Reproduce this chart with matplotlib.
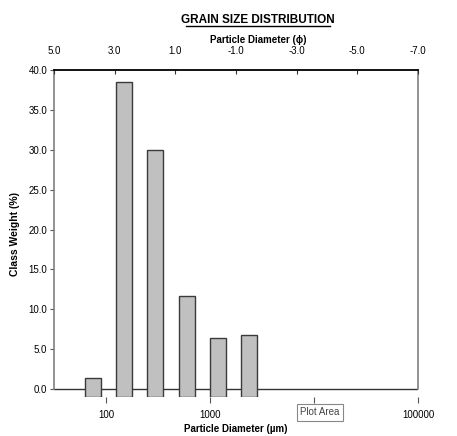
import matplotlib

matplotlib.use("Agg")
import matplotlib.pyplot as plt
from matplotlib.ticker import FixedLocator, FixedFormatter

# sieve classes (lower bound of each class, micrometres) and weight retained
sieve_um = [63, 125, 250, 500, 1000, 2000]
class_weight = [1.4, 38.5, 30.0, 11.7, 6.4, 6.8]

y_ticks = [0, 5, 10, 15, 20, 25, 30, 35, 40]
um_ticks = [100, 1000, 10000, 100000]
um_labels = ["100", "1000", "", "100000"]
phi_ticks = [5.0, 3.0, 1.0, -1.0, -3.0, -5.0, -7.0]

plt.rcParams["font.family"] = ["Liberation Sans Narrow", "Liberation Sans", "DejaVu Sans"]

fig = plt.figure(figsize=(4.57, 4.36), dpi=100)
ax = fig.add_axes([0.1182, 0.0894, 0.7965, 0.75])

y_min = -1.0
ax.bar(sieve_um, [v - y_min for v in class_weight], bottom=y_min,
       width=[s * 0.426 for s in sieve_um], align="edge",
       color="#c0c0c0", edgecolor="#3a3a3a", linewidth=1.0, zorder=3)

ax.set_xscale("log")
ax.set_xlim(10 ** 1.5, 1e5)
ax.set_ylim(y_min, 40)
ax.axhline(0, color="#333333", linewidth=1.0, zorder=2)

ax.spines["bottom"].set_visible(False)
ax.spines["top"].set_visible(False)
for side in ("left", "right"):
    ax.spines[side].set_bounds(0, 40)
    ax.spines[side].set_color("#808080")
    ax.spines[side].set_linewidth(1.2)

ax.yaxis.set_major_locator(FixedLocator(y_ticks))
ax.set_yticklabels([f"{t:.1f}" for t in y_ticks])
ax.tick_params(axis="y", direction="out", length=3, width=0.8,
               color="#555555", labelsize=7, pad=2)

ax.xaxis.set_major_locator(FixedLocator(um_ticks))
ax.xaxis.set_major_formatter(FixedFormatter(um_labels))
ax.xaxis.set_minor_locator(FixedLocator([]))
ax.tick_params(axis="x", direction="out", length=4, width=0.8,
               color="#555555", labelsize=7, pad=5)
ax.set_xlabel("Particle Diameter (\u00b5m)", fontsize=7, fontweight="bold", labelpad=3)
ax.set_ylabel("Class Weight (%)", fontsize=7.5, fontweight="bold", labelpad=6)

# phi scale along the top
top = ax.twiny()
top.set_xlim(5.0, -7.0)
top.set_ylim(ax.get_ylim())
top.spines["bottom"].set_visible(False)
top.spines["left"].set_visible(False)
top.spines["right"].set_visible(False)
top.spines["top"].set_color("black")
top.spines["top"].set_linewidth(1.3)
top.xaxis.set_major_locator(FixedLocator(phi_ticks))
top.set_xticklabels([f"{t:.1f}" for t in phi_ticks])
top.tick_params(axis="x", direction="in", length=3, width=0.8,
                color="#333333", labelsize=7, pad=10)
top.set_xlabel("Particle Diameter (\u03d5)", fontsize=7, fontweight="bold", labelpad=2)
top.xaxis.label.set_x(0.56)

fig.text(0.565, 0.955, "GRAIN SIZE DISTRIBUTION", ha="center", va="center",
         fontsize=8.5, fontweight="bold")
fig.add_artist(plt.Line2D([0.407, 0.722], [0.940, 0.940], color="black", linewidth=1.0))

fig.text(0.7, 0.054, "Plot Area", ha="center", va="center", fontsize=7, color="#444444",
         bbox=dict(boxstyle="square,pad=0.35", facecolor="white", edgecolor="#888888",
                   linewidth=0.8))

fig.savefig("out.png", dpi=100)
